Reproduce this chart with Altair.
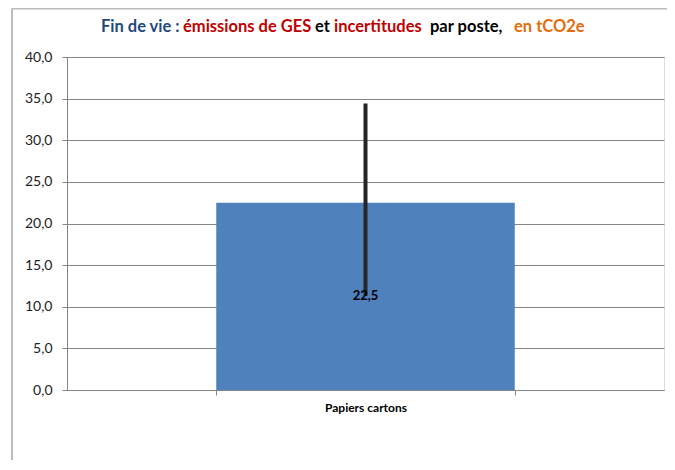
import altair as alt
import pandas as pd

categories = ["Papiers cartons"]
values = [22.5]
err_low = [11.3]
err_high = [34.4]

title_parts = ["Fin de vie : ", "émissions de GES", "et", "incertitudes", "par poste,", "en tCO2e"]
title_colors = ["#1F497D", "#C00000", "#000000", "#C00000", "#000000", "#E46C0A"]
title_x = [34, 116, 248, 267, 363, 447]

df = pd.DataFrame({"cat": categories, "val": values, "lo": err_low, "hi": err_high})
df["mid"] = df["val"] / 2
df["lab"] = df["val"].map(lambda v: f"{v:.1f}".replace(".", ","))

FONT = "Lato"

x = alt.X("cat:N", title=None,
          scale=alt.Scale(paddingInner=0.5, paddingOuter=0.25),
          axis=alt.Axis(labelAngle=0, labelFont=FONT, labelFontWeight="bold",
                        labelFontSize=12, labelColor="#000000", labelPadding=7,
                        domainColor="#868686", tickColor="#868686", tickSize=5,
                        tickBand="extent", grid=False))

y_axis = alt.Axis(values=[0, 5, 10, 15, 20, 25, 30, 35, 40],
                  labelExpr="replace(format(datum.value, '.1f'), '.', ',')",
                  labelFont=FONT, labelFontSize=14, labelColor="#222222",
                  labelPadding=10, tickSize=5, tickColor="#868686",
                  domainColor="#868686", gridColor="#868686", gridWidth=1)

base = alt.Chart(df)

bars = base.mark_bar(color="#4F81BD").encode(
    x=x,
    y=alt.Y("val:Q", title=None, scale=alt.Scale(domain=[0, 40], nice=False), axis=y_axis),
)

err = base.mark_rule(color="#262626", strokeWidth=4, strokeCap="butt").encode(
    x=alt.X("cat:N"),
    y=alt.Y("lo:Q"),
    y2="hi:Q",
)

label = base.mark_text(font=FONT, fontWeight="bold", fontSize=13, color="#000000",
                       baseline="middle").encode(
    x=alt.X("cat:N"),
    y=alt.Y("mid:Q"),
    text="lab:N",
)

frame_left = alt.Chart(df).mark_rule(color="#A6A6A6", strokeWidth=1.5).encode(
    x=alt.value(-55), y=alt.value(-48.5), y2=alt.value(420))
frame_top = alt.Chart(df).mark_rule(color="#BBBBBB", strokeWidth=2).encode(
    x=alt.value(-55), x2=alt.value(620), y=alt.value(-48.5))

title_layers = []
for t, c, px in zip(title_parts, title_colors, title_x):
    title_layers.append(
        alt.Chart(df).mark_text(text=t, font=FONT, fontWeight="bold", fontSize=16.5,
                                color=c, align="left", baseline="middle").encode(
            x=alt.value(px), y=alt.value(-30))
    )

chart = alt.layer(bars, err, label, frame_left, frame_top, *title_layers).properties(
    width=597, height=333,
    autosize=alt.AutoSizeParams(type="none"),
    padding={"left": 59, "top": 49, "right": 3, "bottom": 70},
).configure_view(stroke=None).configure(background="#FFFFFF")

chart.save("out.html", embed_options={"renderer": "svg", "actions": False})
